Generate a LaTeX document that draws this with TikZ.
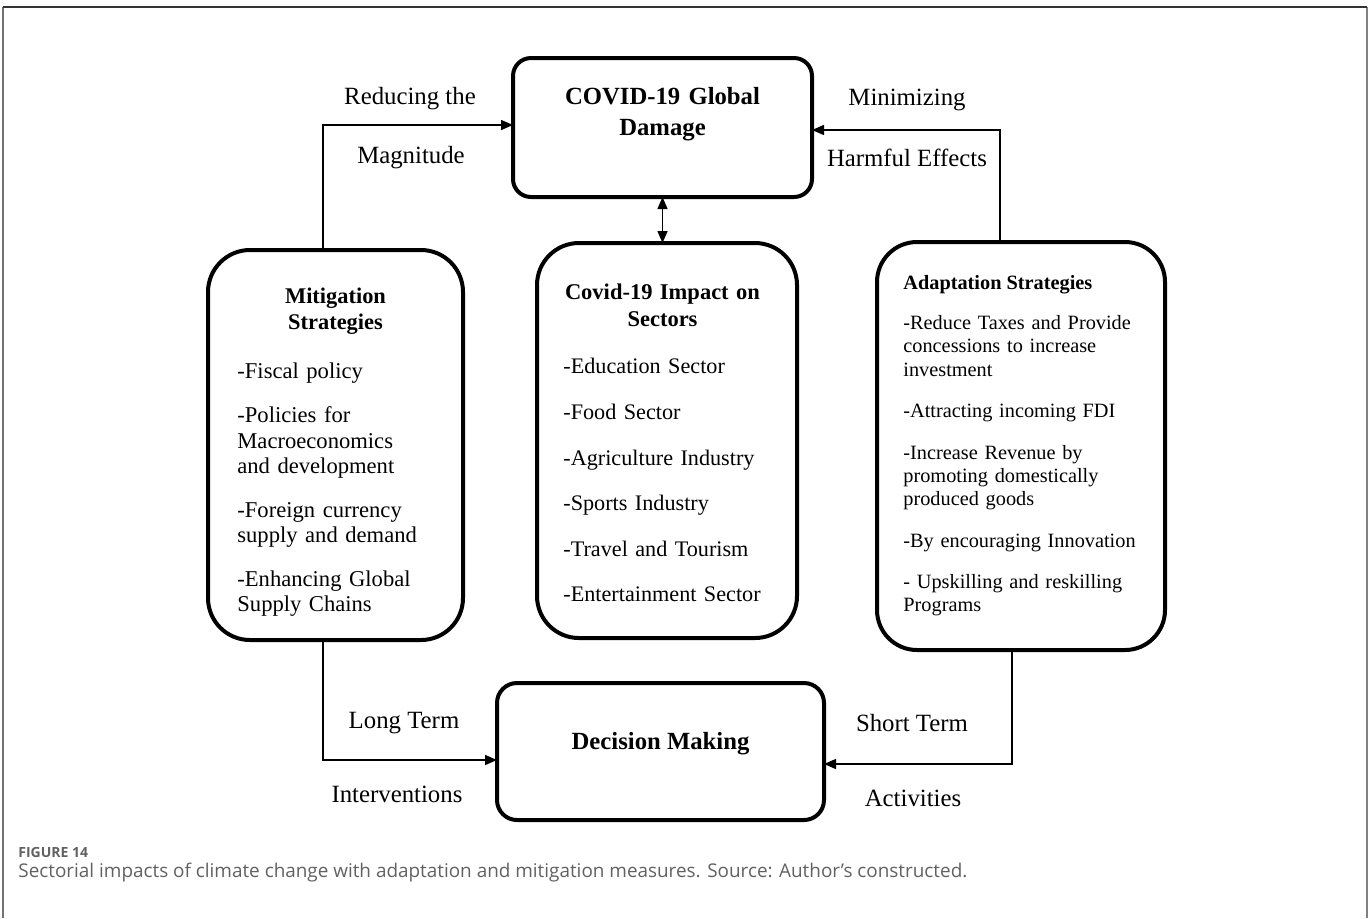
\documentclass[tikz,border=0pt]{standalone}
\usepackage{fontspec}
\setmainfont{Liberation Serif}
\newfontfamily\capfont{Open Sans}
\usetikzlibrary{arrows.meta}
\begin{document}
\begin{tikzpicture}[x=0.5pt,y=-0.5pt,
  box/.style={draw, line width=2pt, inner sep=0pt, outer sep=0pt},
  conn/.style={line width=0.75pt, -{Triangle[length=6pt,width=5pt]}},
  dconn/.style={line width=0.75pt, {Triangle[length=6pt,width=5pt]}-{Triangle[length=6pt,width=5pt]}},
  lbl/.style={font=\fontsize{12.4}{15}\selectfont, inner sep=0pt, anchor=base},
  txt/.style={inner sep=0pt, anchor=north west, align=left},
  ctxt/.style={inner sep=0pt, anchor=north, align=center},
]
\useasboundingbox (0,0) rectangle (1370,918);
% frame
\draw[line width=1pt, color=black!55] (3,918) -- (3,7);
\draw[line width=1pt, color=black!50] (1367,918) -- (1367,7);
\draw[line width=1pt, color=black!80] (3,7) -- (1367,7);

% boxes
\node[box, rounded corners=9pt, minimum width=149.5pt, minimum height=69.5pt] (damage) at (662.5,127.5) {};
\node[box, rounded corners=21pt, minimum width=127.5pt, minimum height=195pt] (mit) at (335.5,445) {};
\node[box, rounded corners=21pt, minimum width=130pt, minimum height=197.5pt] (sect) at (667,440.5) {};
\node[box, rounded corners=20pt, minimum width=144pt, minimum height=204pt] (adapt) at (1021,446) {};
\node[box, rounded corners=10pt, minimum width=163.5pt, minimum height=68.5pt] (dec) at (660.5,751.5) {};

% box texts
\node[ctxt, text width=140pt, font=\fontsize{12.35}{15.5}\selectfont\bfseries] (damagetxt) at (662.5,82.8) {\strut COVID-19 Global\\Damage};
\node[inner sep=0pt, anchor=base, font=\fontsize{12.35}{15}\selectfont\bfseries] (dectxt) at (660.5,749.5) {Decision Making};

\node[ctxt, text width=115pt, font=\fontsize{11.2}{13}\selectfont\bfseries] (mithead) at (335.5,285.3) {\strut Mitigation\\Strategies};
\node[txt, text width=115pt, font=\fontsize{11.3}{12.75}\selectfont] (mitbody) at (237,360.6) {\strut -Fiscal policy\\[9.1pt]
-Policies for\\Macroeconomics\\and development\\[9.1pt]
-Foreign currency\\supply and demand\\[9.1pt]
-Enhancing Global\\Supply Chains};

\node[ctxt, text width=125pt, font=\fontsize{11.25}{13.5}\selectfont\bfseries] (secthead) at (662.5,280.6) {\strut Covid-19 Impact on\\Sectors};
\node[txt, text width=125pt, font=\fontsize{11.1}{22.8}\selectfont] (sectbody) at (563,341.6) {\strut -Education Sector\\-Food Sector\\-Agriculture Industry\\-Sports Industry\\-Travel and Tourism\\-Entertainment Sector};

\node[inner sep=0pt, anchor=base west, font=\fontsize{10.15}{12}\selectfont\bfseries] (adapthead) at (903,289) {Adaptation Strategies};
\node[txt, text width=125pt, font=\fontsize{10.15}{11.65}\selectfont] (adaptbody) at (903,312.7) {\strut -Reduce Taxes and Provide\\concessions to increase\\investment\\[9.1pt]
-Attracting incoming FDI\\[9.1pt]
-Increase Revenue by\\promoting domestically\\produced goods\\[9.1pt]
-By encouraging Innovation\\[9.1pt]
- Upskilling and reskilling\\Programs};

% connectors
\draw[conn] ([xshift=-6.25pt]mit.north) |- ([yshift=1.25pt]damage.west);
\draw[conn] ([xshift=-10.5pt]adapt.north) |- ([yshift=-1.25pt]damage.east);
\draw[dconn] (damage.south) -- (damage.south |- sect.north);
\draw[conn] ([xshift=-6.25pt]mit.south) |- ([yshift=-4.25pt]dec.west);
\draw[conn] ([xshift=-4.5pt]adapt.south) |- ([yshift=-6.25pt]dec.east);

% connector labels
\node[lbl] (l1a) at (410,104.5) {Reducing the};
\node[lbl] (l1b) at (411,163.5) {Magnitude};
\node[lbl] (l2a) at (907,105.5) {Minimizing};
\node[lbl] (l2b) at (907,166.5) {Harmful Effects};
\node[lbl] (l3a) at (404,728.5) {Long Term};
\node[lbl] (l3b) at (397,802.5) {Interventions};
\node[lbl] (l4a) at (912,731.5) {Short Term};
\node[lbl] (l4b) at (913,806.5) {Activities};

% caption
\node[inner sep=0pt, anchor=base west, font=\capfont\fontsize{7}{8}\selectfont\bfseries, text=black!62] (fig) at (18,857) {FIGURE 14};
\node[inner sep=0pt, anchor=base west, font=\capfont\fontsize{9.45}{10}\selectfont, text=black!62] (cap) at (18,877) {Sectorial impacts of climate change with adaptation and mitigation measures. Source: Author’s constructed.};
\end{tikzpicture}
\end{document}
